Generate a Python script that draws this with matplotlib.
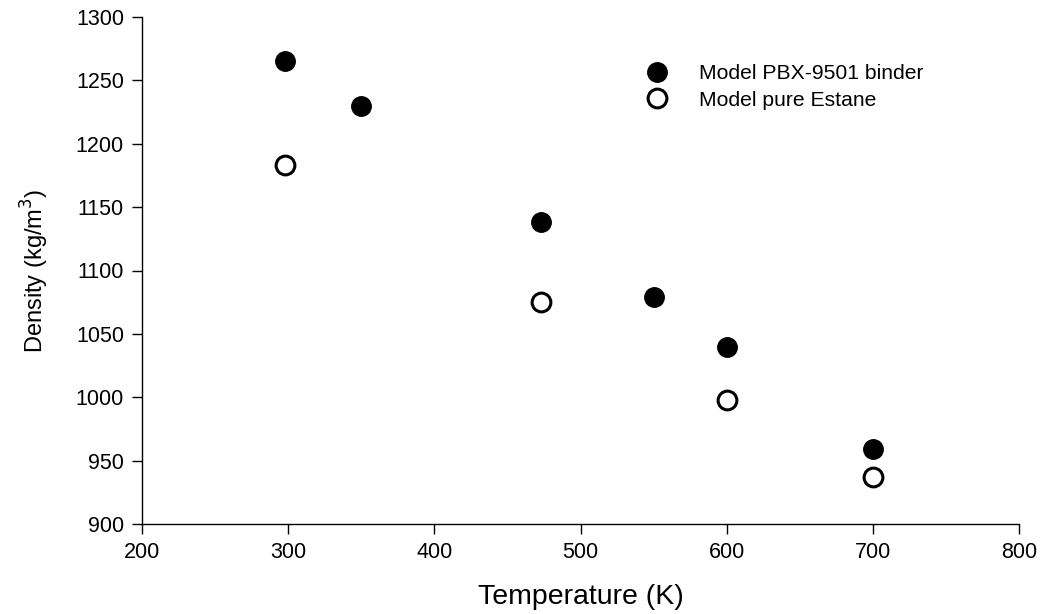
import matplotlib
matplotlib.use("Agg")
import matplotlib.pyplot as plt

plt.rcParams['font.family'] = ['Liberation Sans', 'DejaVu Sans']

temp_binder = [298, 350, 473, 550, 600, 700]
dens_binder = [1265, 1230, 1138, 1079, 1040, 959]
temp_estane = [298, 473, 600, 700]
dens_estane = [1183, 1075, 998, 937]

xticks = [200, 300, 400, 500, 600, 700, 800]
yticks = [900, 950, 1000, 1050, 1100, 1150, 1200, 1250, 1300]

fig = plt.figure(figsize=(10.45, 6.14), dpi=100)
ax = fig.add_axes([142/1045, 1-524/614, (1019-142)/1045, (524-17)/614])

ax.plot(temp_binder, dens_binder, 'o', color='black', markersize=14, linestyle='none',
        label='Model PBX-9501 binder')
ax.plot(temp_estane, dens_estane, 'o', markerfacecolor='white', markeredgecolor='black',
        markeredgewidth=2.2, markersize=13.5, linestyle='none', label='Model pure Estane')

ax.set_xlim(200, 800)
ax.set_ylim(900, 1300)
ax.set_xticks(xticks)
ax.set_yticks(yticks)
ax.spines['top'].set_visible(False)
ax.spines['right'].set_visible(False)
ax.tick_params(direction='out', length=7, width=1, labelsize=15.5, pad=6)
for s in ['left', 'bottom']:
    ax.spines[s].set_linewidth(1)

ax.set_xlabel('Temperature (K)', fontsize=20.5, labelpad=15)
ax.set_ylabel('Density (kg/m$^3$)', fontsize=17, family=['Liberation Sans Narrow', 'Liberation Sans'], labelpad=18)

ax.legend(loc='upper left', bbox_to_anchor=(0.563, 0.923), frameon=False, fontsize=15.2,
          handlelength=1.2, handletextpad=1.4, labelspacing=0.35, borderaxespad=0)

fig.savefig('out.png', dpi=100)
